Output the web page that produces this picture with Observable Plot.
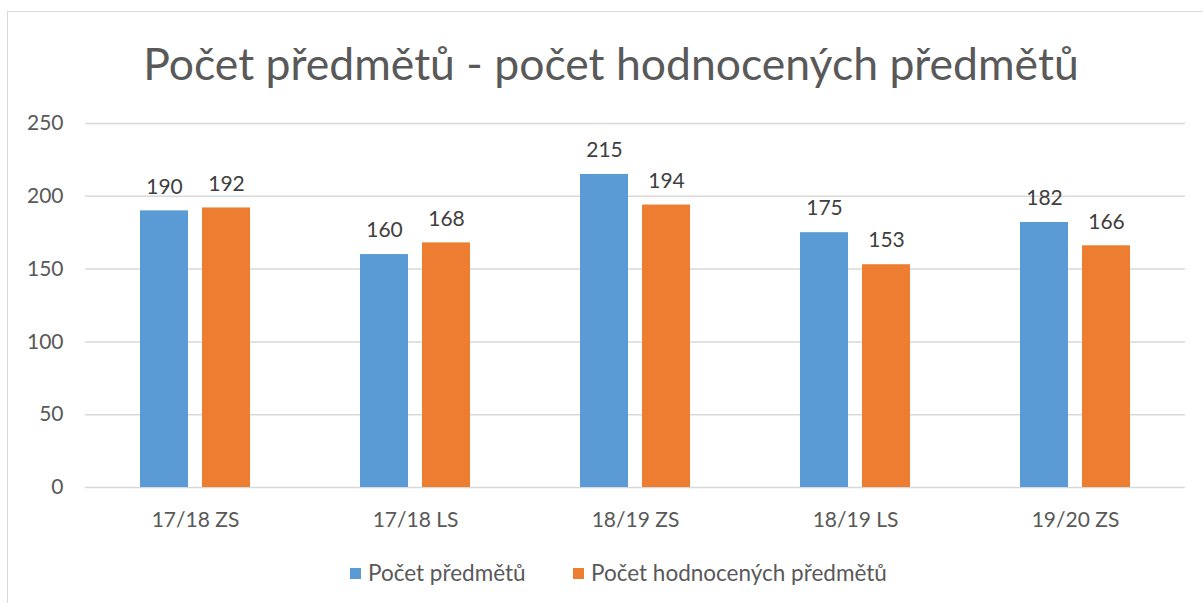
<!DOCTYPE html>
<html>
<head>
<meta charset="utf-8">
<script src="https://cdn.jsdelivr.net/npm/d3@7"></script>
<script src="https://cdn.jsdelivr.net/npm/@observablehq/plot@0.6"></script>
<style>
  html, body { margin: 0; padding: 0; background: #fff; }
  #wrap { position: relative; width: 1203px; height: 603px; overflow: hidden; background: #fff; font-family: Lato, "Open Sans", sans-serif; }
  #frame { position: absolute; left: 7px; top: 11px; width: 1400px; height: 800px; border: 1px solid #d9d9d9; box-sizing: border-box; }
  #title { position: absolute; left: 0; top: 34px; width: 1222px; text-align: center; font-size: 44.5px; color: #595959; line-height: 58px; white-space: nowrap; }
  #chart { position: absolute; left: 0; top: 100px; }
  #chart svg { font-family: Lato, "Open Sans", sans-serif; }
  .lg { position: absolute; top: 561px; display: flex; align-items: center; font-size: 22.5px; color: #595959; line-height: 24px; white-space: nowrap; }
  .lg span.sw { display: inline-block; width: 11px; height: 11px; margin-right: 7px; }
</style>
</head>
<body>
<div id="wrap">
  <div id="frame"></div>
  <div id="title"></div>
  <div id="chart"></div>
  <div id="legend"></div>
</div>
<script>
const titleText = "Počet předmětů - počet hodnocených předmětů";
const categories = ["17/18 ZS", "17/18 LS", "18/19 ZS", "18/19 LS", "19/20 ZS"];
const seriesNames = ["Počet předmětů", "Počet hodnocených předmětů"];
const seriesColors = ["#5B9BD5", "#ED7D31"];
const pocetPredmetu = [190, 160, 215, 175, 182];
const pocetHodnocenych = [192, 168, 194, 153, 166];
const yTicks = [0, 50, 100, 150, 200, 250];

document.getElementById("title").textContent = titleText;

const seriesValues = [pocetPredmetu, pocetHodnocenych];
const data = [];
categories.forEach((c, i) => {
  seriesNames.forEach((s, j) => data.push({cat: c, series: s, value: seriesValues[j][i]}));
});

const chart = Plot.plot({
  width: 1203,
  height: 430,
  marginTop: 23,
  marginBottom: 43,
  marginLeft: 84,
  marginRight: 17,
  style: {fontSize: "21px", color: "#595959", background: "transparent"},
  fx: {domain: categories, padding: 0, axis: "bottom", tickSize: 0, tickPadding: 25, label: null},
  x: {domain: seriesNames, axis: null, paddingInner: 0.222, paddingOuter: 0.861},
  y: {domain: [0, 250], ticks: yTicks, tickSize: 0, tickPadding: 22, label: null, tickFormat: d => String(d)},
  color: {domain: seriesNames, range: seriesColors},
  marks: [
    Plot.ruleY(yTicks, {stroke: "#d9d9d9", strokeWidth: 1.5}),
    Plot.barY(data, {fx: "cat", x: "series", y: "value", fill: "series"}),
    Plot.text(data, {fx: "cat", x: "series", y: "value", text: d => String(d.value), dy: -24, fill: "#404040", fontSize: 21})
  ]
});
document.getElementById("chart").appendChild(chart);

const legendLefts = [350, 573];
const legend = document.getElementById("legend");
seriesNames.forEach((s, i) => {
  const item = document.createElement("div");
  item.className = "lg";
  item.style.left = legendLefts[i] + "px";
  const sw = document.createElement("span");
  sw.className = "sw";
  sw.style.background = seriesColors[i];
  const tx = document.createElement("span");
  tx.textContent = s;
  item.appendChild(sw);
  item.appendChild(tx);
  legend.appendChild(item);
});
</script>
</body>
</html>
